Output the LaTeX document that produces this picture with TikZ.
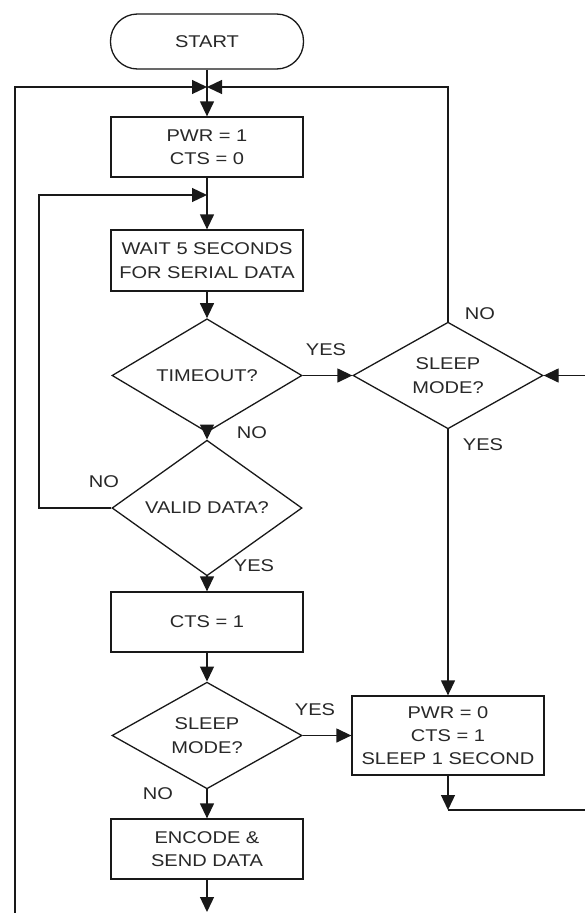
\documentclass[tikz,border=0pt]{standalone}
\usepackage{fontspec}
\setmainfont[FakeStretch=1.18]{Liberation Sans}
\usetikzlibrary{arrows.meta,shapes.geometric,calc}
\definecolor{ink}{RGB}{25,25,25}
\definecolor{txt}{RGB}{40,40,40}
\begin{document}
\begin{tikzpicture}[x=1pt,y=-1pt,
  every node/.style={font=\fontsize{17}{23.3}\selectfont, text=txt},
  procbox/.style={draw=ink, line width=1.3pt, minimum width=192pt, minimum height=60pt, align=center, inner sep=0pt},
  termbox/.style={draw=ink, line width=1.3pt, rounded corners=27pt, minimum width=193pt, minimum height=55pt, inner sep=0pt},
  decbox/.style={draw=ink, line width=1.3pt, diamond, minimum width=190pt, minimum height=95pt, inner sep=0pt, align=center},
  lbl/.style={inner sep=0pt},
  arr/.style={draw=ink, line width=1.3pt, -{Triangle[length=15pt,width=14pt]}},
  ln/.style={draw=ink, line width=1.3pt}]
\useasboundingbox[fill=white] (0,0) rectangle (585,913);

\node[termbox] (start) at (207,41.5) {START};
\node[procbox] (b1) at (207,147) {PWR = 1\\CTS = 0};
\node[procbox, minimum height=61pt] (b2) at (207,260.5) {WAIT 5 SECONDS\\FOR SERIAL DATA};
\node[decbox] (td) at (207,375.5) {TIMEOUT?};
\node[decbox] (sd1) at (448,375.5) {SLEEP\\MODE?};
\node[decbox] (vd) at (207,508) {VALID DATA?};
\node[procbox] (cts) at (207,622) {CTS = 1};
\node[decbox] (sd2) at (207,735.5) {SLEEP\\MODE?};
\node[procbox, minimum width=192pt, minimum height=79pt] (sb) at (448,735.5) {PWR = 0\\CTS = 1\\SLEEP 1 SECOND};
\node[procbox] (enc) at (207,849) {ENCODE \&\\SEND DATA};

\coordinate (j1) at (207,87);
\coordinate (j2) at (207,195);
\coordinate (j2l) at (39,195);
\coordinate (lb) at (15,913);
\coordinate (j3) at (448,810);
\coordinate (rr) at (600,810);
\coordinate (bot) at (207,912);

% main column
\draw[arr] (start.south) -- (b1.north);
\draw[arr] (lb) |- (j1);
\draw[arr] (sd1.north) |- (j1);
\draw[arr] (b1.south) -- (b2.north);
\draw[arr] (vd.west) -| (j2l) -- (j2);
\draw[arr] (b2.south) -- (td.north);
\draw[arr] (td.east) -- (sd1.west);
\draw[arr] (td.south) -- (vd.north);
\draw[arr] (vd.south) -- (cts.north);
\draw[arr] (cts.south) -- (sd2.north);
\draw[arr] (sd2.east) -- (sb.west);
\draw[arr] (sd2.south) -- (enc.north);
\draw[arr] (enc.south) -- (bot);
\draw[arr] (sd1.south) -- (sb.north);
\draw[arr] (sb.south) -- (j3);
\draw[arr] (j3) -- (rr) |- (sd1.east);

% labels
\node[lbl] at (326,350) {YES};
\node[lbl] at (480,314) {NO};
\node[lbl] at (252,433) {NO};
\node[lbl] at (483,445) {YES};
\node[lbl] at (104,482) {NO};
\node[lbl] at (254,566) {YES};
\node[lbl] at (315,710) {YES};
\node[lbl] at (158,794) {NO};
\end{tikzpicture}
\end{document}
